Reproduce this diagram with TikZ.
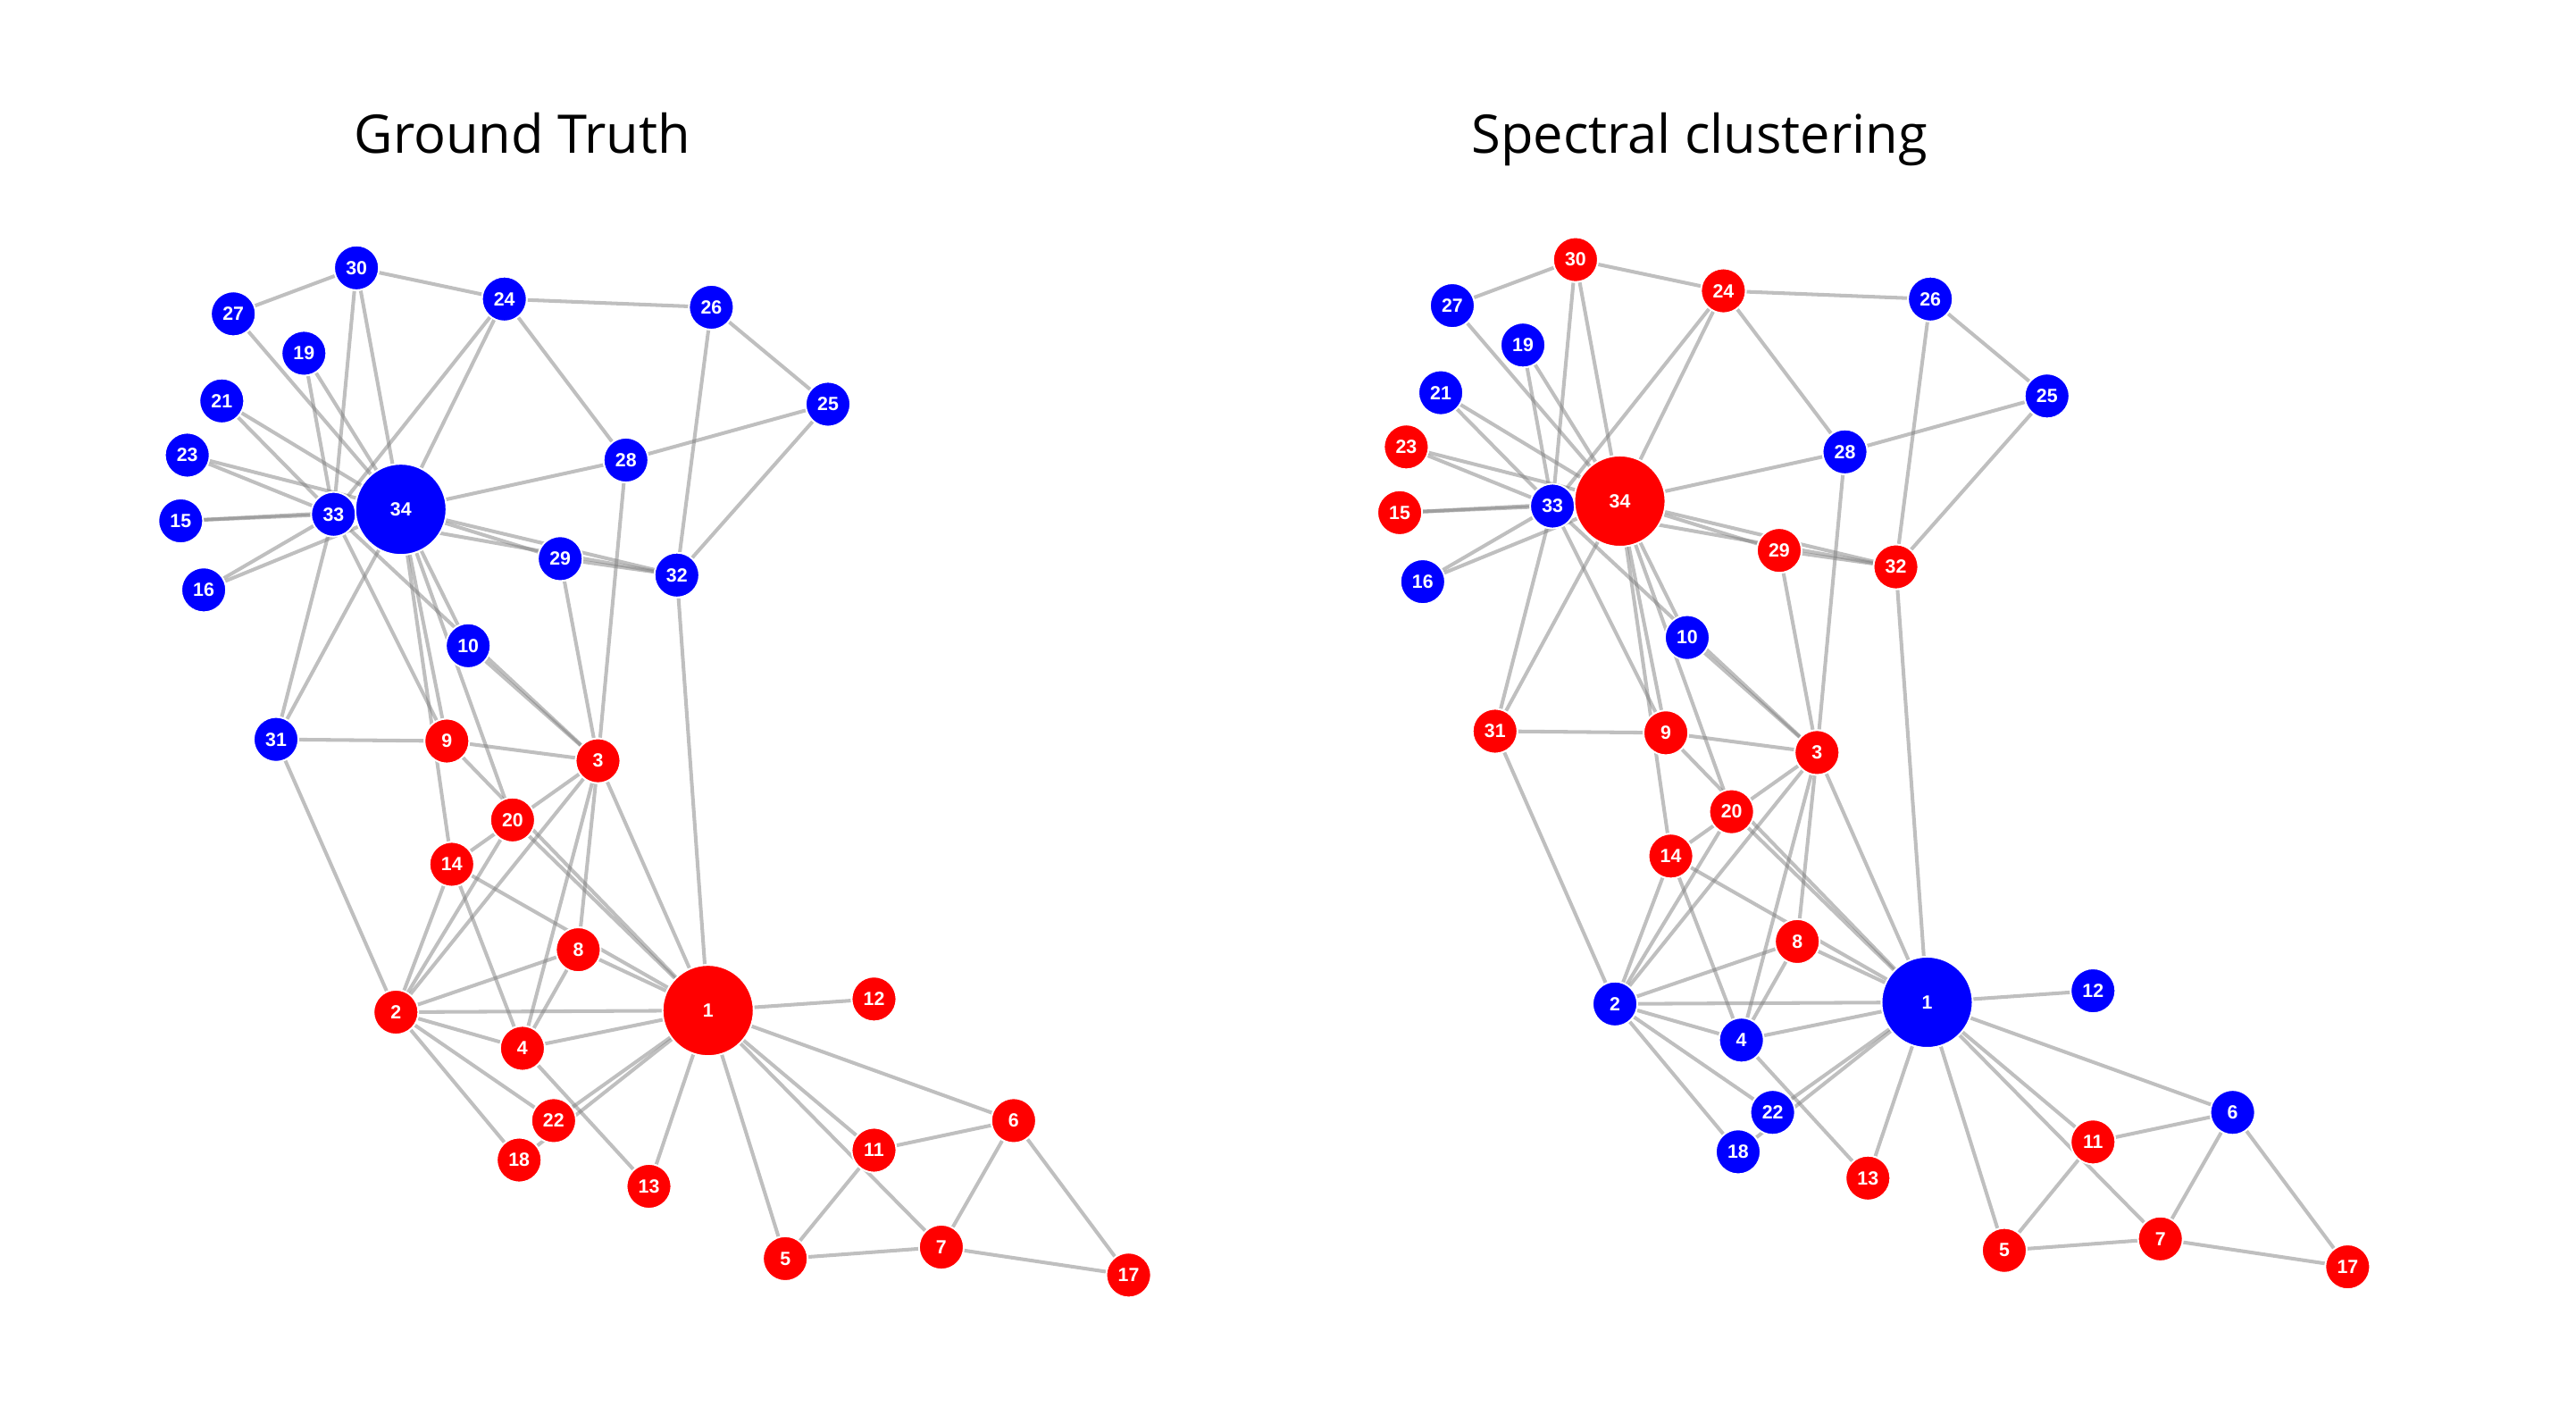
\documentclass[tikz,border=0pt]{standalone}
\usepackage{fontspec}
\setmainfont{Open Sans}
\newfontfamily\labelfont{Liberation Sans}
\usetikzlibrary{backgrounds}

\tikzset{
  vsmall/.style = {circle, draw = white, line width = .5pt, minimum size = 13.6pt,
                   inner sep = 0pt, text = white,
                   font = \labelfont\bfseries\fontsize{5.8}{6}\selectfont},
  vbig/.style = {vsmall, minimum size = 27.7pt},
  edge/.style = {draw = black!50, draw opacity = .5, line width = 1.1pt}
}

\begin{document}
\begin{tikzpicture}[x = .5pt, y = -.5pt]
        \useasboundingbox (0,0) rectangle (1568,856);
        \node[font = \fontsize{16.2}{20}\selectfont, anchor = base] (tgt) at (318,93) {Ground Truth};
        \node[font = \fontsize{16.2}{20}\selectfont, anchor = base] (tsc) at (1034.5,93) {Spectral clustering};
        % g = ground truth, s = spectral clustering (same layout, shifted)
        \foreach \n/\x/\y/\s/\l/\r in {1/431/615/vbig/red/blue, 2/241/616/vsmall/red/blue,
            3/364/463/vsmall/red/red, 4/318/638/vsmall/red/blue, 5/478/766/vsmall/red/red,
            6/617/682/vsmall/red/blue, 7/573/759/vsmall/red/red, 8/352/578/vsmall/red/red,
            9/272/451/vsmall/red/red, 10/285/393/vsmall/blue/blue, 11/532/700/vsmall/red/red,
            12/532/608/vsmall/red/blue, 13/395/722/vsmall/red/red, 14/275/526/vsmall/red/red,
            15/110/317/vsmall/blue/red, 16/124/359/vsmall/blue/blue, 17/687/776/vsmall/red/red,
            18/316/706/vsmall/red/blue, 19/185/215/vsmall/blue/blue, 20/312/499/vsmall/red/red,
            21/135/244/vsmall/blue/blue, 22/337/682/vsmall/red/blue, 23/114/277/vsmall/blue/red,
            24/307/182/vsmall/blue/red, 25/504/246/vsmall/blue/blue, 26/433/187/vsmall/blue/blue,
            27/142/191/vsmall/blue/blue, 28/381/280/vsmall/blue/blue, 29/341/340/vsmall/blue/red,
            30/217/163/vsmall/blue/red, 31/168/450/vsmall/blue/red, 32/412/350/vsmall/blue/red,
            33/203/313/vsmall/blue/blue, 34/244/310/vbig/blue/red}
        {
          \node[\s, fill = \l] (g\n) at (\x,\y) {\n};
          \node[\s, fill = \r] (s\n) at ({\x+742},{\y-5}) {\n};
        }
        \begin{scope}[on background layer]
          \foreach \a/\b in {1/2, 1/3, 1/4, 1/5, 1/6, 1/7, 1/8, 1/9, 1/11, 1/12, 1/13,
              1/14, 1/18, 1/20, 1/22, 1/32, 2/3, 2/4, 2/8, 2/14, 2/18, 2/20, 2/22, 2/31,
              3/4, 3/8, 3/9, 3/10, 3/14, 3/28, 3/29, 3/33, 4/8, 4/13, 4/14, 5/7, 5/11,
              6/7, 6/11, 6/17, 7/17, 9/31, 9/33, 9/34, 10/34, 14/34, 15/33, 15/34,
              16/33, 16/34, 19/33, 19/34, 20/34, 21/33, 21/34, 23/33, 23/34, 24/26,
              24/28, 24/30, 24/33, 24/34, 25/26, 25/28, 25/32, 26/32, 27/30, 27/34,
              28/34, 29/32, 29/34, 30/33, 30/34, 31/33, 31/34, 32/33, 32/34, 33/34}
          {
            \draw[edge] (g\a) -- (g\b);
            \draw[edge] (s\a) -- (s\b);
          }
        \end{scope}
      \end{tikzpicture}
\end{document}
